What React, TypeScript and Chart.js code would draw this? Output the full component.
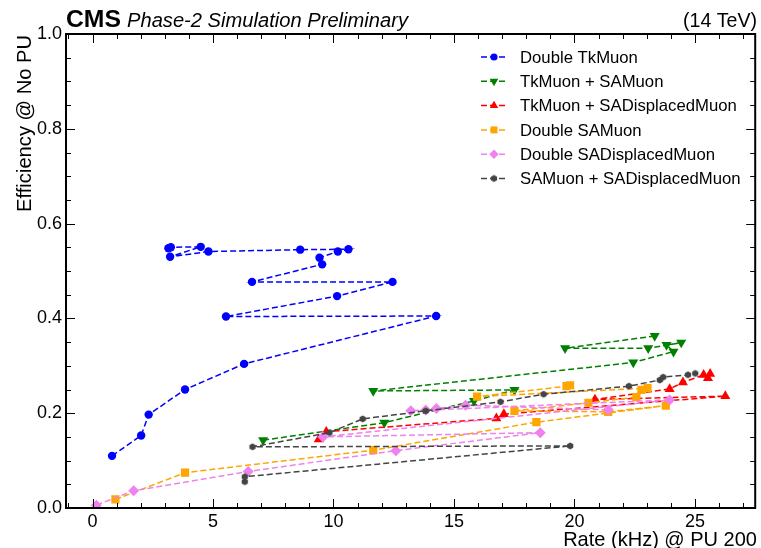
import React, { useEffect, useRef } from "react";
import { Chart, registerables } from "chart.js";
import { drawPoint } from "chart.js/helpers";

Chart.register(...registerables);

// ---------- data (rate in kHz @ PU 200, efficiency @ No PU) ----------
const doubleTkMuonRate = [0.81, 2.02, 2.33, 3.84, 6.29, 14.26, 5.54, 10.15, 12.45, 6.62, 9.53, 9.42, 10.18, 10.62, 8.62, 4.81, 3.22, 4.49, 3.25, 3.15];
const doubleTkMuonEff = [0.110, 0.153, 0.197, 0.250, 0.304, 0.405, 0.404, 0.447, 0.477, 0.477, 0.514, 0.528, 0.541, 0.546, 0.545, 0.541, 0.530, 0.551, 0.550, 0.548];

const tkSaMuonRate = [7.08, 12.11, 15.83, 17.51, 11.65, 22.44, 24.11, 23.82, 24.43, 23.06, 19.61, 23.33];
const tkSaMuonEff = [0.143, 0.180, 0.226, 0.249, 0.247, 0.307, 0.330, 0.344, 0.349, 0.337, 0.337, 0.363];

const tkSaDispRate = [9.39, 9.70, 16.76, 17.07, 26.26, 20.85, 23.95, 24.50, 25.36, 25.54, 25.63];
const tkSaDispEff = [0.145, 0.161, 0.189, 0.198, 0.236, 0.229, 0.251, 0.265, 0.281, 0.274, 0.283];

const doubleSaMuonRate = [0.95, 3.84, 11.65, 18.42, 23.79, 21.40, 17.51, 20.58, 22.57, 22.78, 23.03, 15.96, 19.67, 19.82];
const doubleSaMuonEff = [0.018, 0.0745, 0.122, 0.181, 0.216, 0.203, 0.205, 0.222, 0.234, 0.249, 0.253, 0.235, 0.257, 0.259];

const doubleSaDispRate = [0.16, 1.71, 6.46, 12.59, 18.58, 9.56, 23.95, 13.21, 13.83, 14.27, 15.48, 21.40];
const doubleSaDispEff = [0.006, 0.0365, 0.077, 0.121, 0.159, 0.150, 0.228, 0.205, 0.207, 0.210, 0.217, 0.207];

const saSaDispRate = [6.32, 6.32, 19.82, 6.64, 9.83, 11.21, 13.83, 16.93, 18.72, 22.26, 23.54, 23.68, 24.71, 25.01];
const saSaDispEff = [0.0555, 0.066, 0.131, 0.129, 0.159, 0.188, 0.205, 0.224, 0.240, 0.257, 0.270, 0.276, 0.281, 0.284];

const seriesNames = [
  "Double TkMuon",
  "TkMuon + SAMuon",
  "TkMuon + SADisplacedMuon",
  "Double SAMuon",
  "Double SADisplacedMuon",
  "SAMuon + SADisplacedMuon",
];
const seriesColors = ["#0000ff", "#008000", "#ff0000", "#ffa500", "#ee82ee", "#444444"];

const xMajorTicks = [0, 5, 10, 15, 20, 25];
const yMajorTicks = [0, 0.2, 0.4, 0.6, 0.8, 1.0];

const headerCms = "CMS";
const headerSub = "Phase-2 Simulation Preliminary";
const headerEnergy = "(14 TeV)";
const xTitle = "Rate (kHz) @ PU 200";
const yTitle = "Efficiency @ No PU";

const FONT = "'Liberation Sans', Arial, Helvetica, sans-serif";

function makeHexagon(color: string, r: number) {
  const size = Math.ceil(r * 2 + 2);
  const c = document.createElement("canvas");
  c.width = size;
  c.height = size;
  const ctx = c.getContext("2d")!;
  ctx.fillStyle = color;
  ctx.beginPath();
  for (let i = 0; i < 6; i++) {
    const a = Math.PI / 6 + (i * Math.PI) / 3;
    const px = size / 2 + r * Math.cos(a);
    const py = size / 2 + r * Math.sin(a);
    if (i === 0) ctx.moveTo(px, py);
    else ctx.lineTo(px, py);
  }
  ctx.closePath();
  ctx.fill();
  return c;
}

function fitFont(ctx: CanvasRenderingContext2D, text: string, prefix: string, width: number) {
  ctx.font = `${prefix} 100px ${FONT}`;
  const w = ctx.measureText(text).width;
  const size = (100 * width) / w;
  return `${prefix} ${size.toFixed(2)}px ${FONT}`;
}

// draw text at a given font size, horizontally squeezed to a given width
function squeezeText(ctx: CanvasRenderingContext2D, text: string, prefix: string, size: number, x: number, y: number, width: number, alignRight = false) {
  ctx.save();
  ctx.font = `${prefix} ${size}px ${FONT}`;
  const w = ctx.measureText(text).width;
  const sx = width / w;
  ctx.textAlign = "left";
  ctx.translate(alignRight ? x - width : x, y);
  ctx.scale(sx, 1);
  ctx.fillText(text, 0, 0);
  ctx.restore();
}

export default function App() {
  const ref = useRef<HTMLCanvasElement | null>(null);

  useEffect(() => {
    const canvas = ref.current;
    if (!canvas) return;

    const hex = makeHexagon(seriesColors[5], 3.6);
    const styles: any[] = [
      { pointStyle: "circle", radius: 4.2, rotation: 0 },
      { pointStyle: "triangle", radius: 5.8, rotation: 180 },
      { pointStyle: "triangle", radius: 5.8, rotation: 0 },
      { pointStyle: "rect", radius: 5.8, rotation: 0 },
      { pointStyle: "rectRot", radius: 5.5, rotation: 0 },
      { pointStyle: hex, radius: 4, rotation: 0 },
    ];
    const rates = [doubleTkMuonRate, tkSaMuonRate, tkSaDispRate, doubleSaMuonRate, doubleSaDispRate, saSaDispRate];
    const effs = [doubleTkMuonEff, tkSaMuonEff, tkSaDispEff, doubleSaMuonEff, doubleSaDispEff, saSaDispEff];

    const datasets = seriesNames.map((name, i) => ({
      label: name,
      data: rates[i].map((r, k) => ({ x: r, y: effs[i][k] })),
      showLine: true,
      borderColor: seriesColors[i],
      backgroundColor: seriesColors[i],
      borderWidth: 1.5,
      borderDash: [6, 3],
      tension: 0,
      pointStyle: styles[i].pointStyle,
      pointRotation: styles[i].rotation,
      pointRadius: styles[i].radius,
      pointBorderWidth: 0,
      pointBorderColor: seriesColors[i],
      pointBackgroundColor: seriesColors[i],
      order: seriesNames.length - 1 - i,
    }));

    const decor = {
      id: "decor",
      afterDatasetsDraw(chart: any) {
        const ctx: CanvasRenderingContext2D = chart.ctx;
        const area = chart.chartArea;
        const xs = chart.scales.x;
        const ys = chart.scales.y;
        ctx.save();
        ctx.strokeStyle = "#000";
        ctx.lineWidth = 1;
        ctx.setLineDash([]);
        const majL = 9, minL = 5;
        for (let v = -1; v <= 27; v += 1) {
          const px = Math.round(xs.getPixelForValue(v)) + 0.5;
          if (px <= area.left + 1 || px >= area.right - 1) continue;
          const L = v % 5 === 0 ? majL : minL;
          ctx.beginPath();
          ctx.moveTo(px, area.bottom);
          ctx.lineTo(px, area.bottom - L);
          ctx.moveTo(px, area.top);
          ctx.lineTo(px, area.top + L);
          ctx.stroke();
        }
        for (let k = 0; k <= 20; k++) {
          const v = k * 0.05;
          const py = Math.round(ys.getPixelForValue(v)) + 0.5;
          if (py <= area.top + 1 || py >= area.bottom - 1) continue;
          const L = k % 4 === 0 ? majL : minL;
          ctx.beginPath();
          ctx.moveTo(area.left, py);
          ctx.lineTo(area.left + L, py);
          ctx.moveTo(area.right, py);
          ctx.lineTo(area.right - L, py);
          ctx.stroke();
        }
        ctx.lineWidth = 2;
        ctx.strokeRect(area.left, area.top, area.right - area.left, area.bottom - area.top);

        ctx.fillStyle = "#000";
        ctx.textBaseline = "alphabetic";
        squeezeText(ctx, headerCms, "bold", 24, 66, 27, 55);
        squeezeText(ctx, headerSub, "italic", 20.5, 127, 27, 281);
        squeezeText(ctx, headerEnergy, "", 20.5, 757, 27, 74, true);

        ctx.font = fitFont(ctx, xTitle, "", 194);
        ctx.textAlign = "right";
        ctx.fillText(xTitle, 757, 546);
        ctx.save();
        ctx.translate(31, 35);
        ctx.rotate(-Math.PI / 2);
        ctx.font = fitFont(ctx, yTitle, "", 177);
        ctx.textAlign = "right";
        ctx.fillText(yTitle, 0, 0);
        ctx.restore();

        const legFont = fitFont(ctx, seriesNames[0], "", 118);
        const rowY = [57, 81.3, 105.6, 129.9, 154.2, 178.5];
        seriesNames.forEach((name, i) => {
          const y = rowY[i];
          ctx.save();
          ctx.strokeStyle = seriesColors[i];
          ctx.lineWidth = 1.5;
          ctx.setLineDash([6, 3]);
          ctx.beginPath();
          ctx.moveTo(481, y);
          ctx.lineTo(507, y);
          ctx.stroke();
          ctx.restore();
          ctx.save();
          ctx.fillStyle = seriesColors[i];
          ctx.strokeStyle = seriesColors[i];
          drawPoint(ctx, {
            pointStyle: styles[i].pointStyle,
            rotation: styles[i].rotation,
            radius: styles[i].radius * 0.85,
            borderWidth: 0,
          } as any, 494, y);
          ctx.restore();
          ctx.fillStyle = "#000";
          ctx.font = legFont;
          ctx.textAlign = "left";
          ctx.textBaseline = "middle";
          ctx.fillText(name, 520, y + 1);
        });
        ctx.restore();
      },
    };

    const chart = new Chart(canvas, {
      type: "scatter",
      data: { datasets: datasets as any },
      options: {
        responsive: false,
        animation: false,
        layout: { padding: { top: 34, right: 4, left: 0, bottom: 0 } },
        plugins: { legend: { display: false }, tooltip: { enabled: false } },
        scales: {
          x: {
            type: "linear",
            min: -1.1,
            max: 27.5,
            grid: { display: false, drawTicks: false },
            border: { display: false },
            ticks: {
              color: "#000",
              font: { family: FONT, size: 18 },
              padding: 3,
              maxRotation: 0,
              autoSkip: false,
              callback: (v: any) => String(v),
            },
            afterBuildTicks: (s: any) => {
              s.ticks = xMajorTicks.map((v) => ({ value: v }));
            },
            afterFit: (s: any) => {
              s.height = 40;
            },
          },
          y: {
            type: "linear",
            min: 0,
            max: 1,
            grid: { display: false, drawTicks: false },
            border: { display: false },
            ticks: {
              color: "#000",
              font: { family: FONT, size: 18 },
              padding: 4,
              autoSkip: false,
              callback: (v: any) => Number(v).toFixed(1),
            },
            afterBuildTicks: (s: any) => {
              s.ticks = yMajorTicks.map((v) => ({ value: v }));
            },
            afterFit: (s: any) => {
              s.width = 66;
            },
          },
        },
      } as any,
      plugins: [decor],
    });

    return () => {
      chart.destroy();
    };
  }, []);

  return (
    <div style={{ position: "fixed", left: 0, top: 0, width: 761, height: 548, background: "#fff" }}>
      <canvas ref={ref} width={761} height={548} style={{ display: "block", width: 761, height: 548 }} />
    </div>
  );
}
